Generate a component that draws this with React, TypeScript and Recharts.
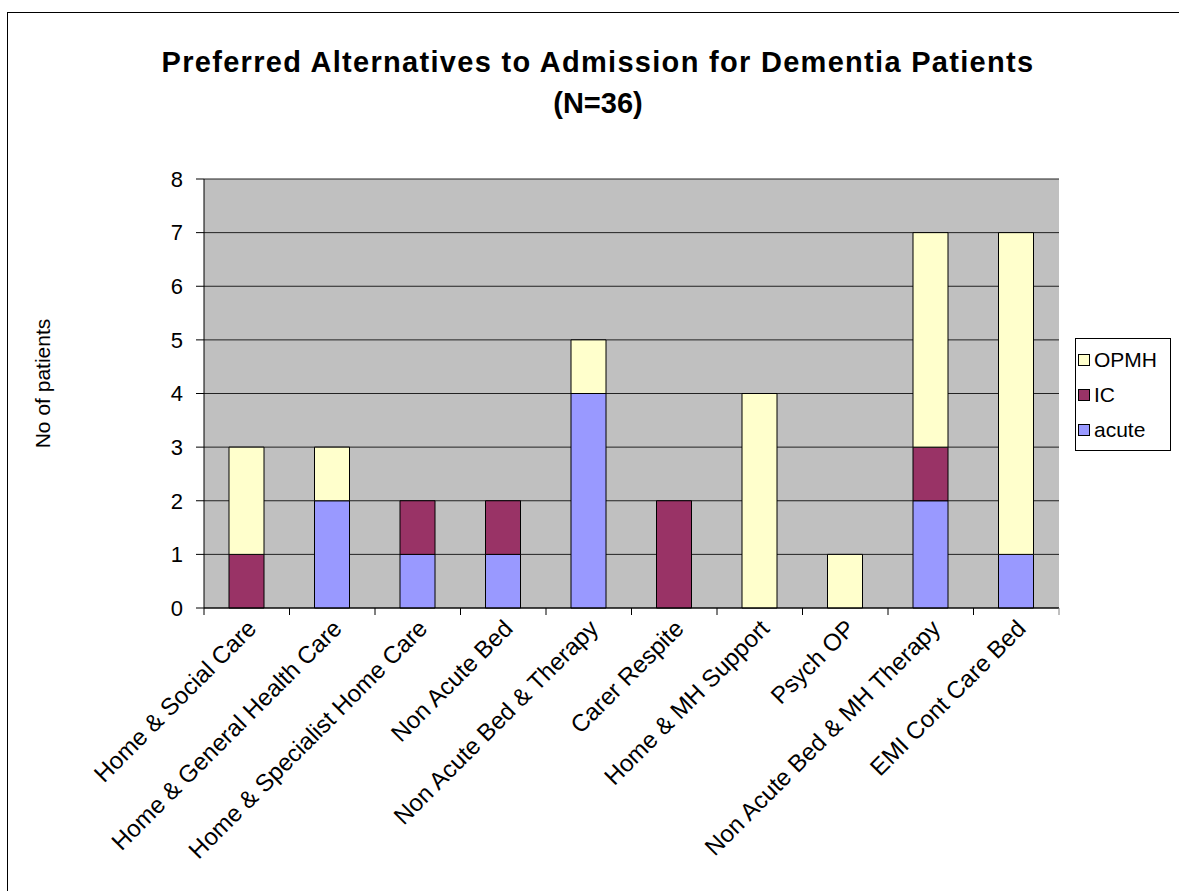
import React from "react";
import {
  Bar,
  BarChart,
  CartesianGrid,
  Label,
  Legend,
  XAxis,
  YAxis,
} from "recharts";

const categories = [
  "Home & Social Care",
  "Home & General Health Care",
  "Home & Specialist Home Care",
  "Non Acute Bed",
  "Non Acute Bed & Therapy",
  "Carer Respite",
  "Home & MH Support",
  "Psych OP",
  "Non Acute Bed & MH Therapy",
  "EMI Cont Care Bed",
];
const acute = [0, 2, 1, 1, 4, 0, 0, 0, 2, 1];
const ic = [1, 0, 1, 1, 0, 2, 0, 0, 1, 0];
const opmh = [2, 1, 0, 0, 1, 0, 4, 1, 4, 6];
const yTicks = [0, 1, 2, 3, 4, 5, 6, 7, 8];
const legendOrder = ["OPMH", "IC", "acute"];

const rows = categories.map((name, i) => ({
  name,
  acute: acute[i],
  IC: ic[i],
  OPMH: opmh[i],
}));

const W = 1179;
const H = 891;
const margin = { top: 179, right: 120, bottom: 0, left: 144 };
const Y_AXIS_W = 60;
const PLOT_W = W - margin.left - Y_AXIS_W - margin.right;
const BAND = PLOT_W / categories.length;
const FONT = "'Liberation Sans', Arial, sans-serif";

// category labels at 45°, with tick marks between the categories
function CategoryTick(props: any) {
  const { x, y, payload, index } = props;
  const last = index === categories.length - 1;
  return (
    <g>
      <line x1={x - BAND / 2} x2={x - BAND / 2} y1={y} y2={y + 7} stroke="#000" />
      {last && <line x1={x + BAND / 2} x2={x + BAND / 2} y1={y} y2={y + 7} stroke="#808080" />}
      <text
        transform={`translate(${x + 11}, ${y + 22}) rotate(-45)`}
        textAnchor="end"
        fontSize={24}
        fontFamily={FONT}
        fill="#000"
      >
        {payload.value}
      </text>
    </g>
  );
}

function LegendBox(props: any) {
  const items = legendOrder
    .map((k) => (props.payload || []).find((p: any) => p.dataKey === k))
    .filter(Boolean);
  return (
    <div
      style={{
        border: "1px solid #000",
        background: "#fff",
        width: 94,
        padding: "3px 0",
        fontFamily: FONT,
        fontSize: 21,
        color: "#000",
      }}
    >
      {items.map((p: any) => (
        <div key={p.dataKey} style={{ display: "flex", alignItems: "center", height: 35, paddingLeft: 2 }}>
          <span
            style={{
              width: 10,
              height: 10,
              border: "1px solid #000",
              background: p.color,
              marginRight: 4,
              display: "inline-block",
            }}
          />
          <span>{p.value}</span>
        </div>
      ))}
    </div>
  );
}

export default function App() {
  return (
    <div
      style={{
        position: "fixed",
        left: 0,
        top: 0,
        width: W,
        height: H,
        overflow: "hidden",
        background: "#fff",
        fontFamily: FONT,
      }}
    >
      <div
        style={{
          position: "absolute",
          left: 7,
          top: 12,
          width: 1300,
          height: 1000,
          border: "1px solid #000",
        }}
      />
      <div
        style={{
          position: "absolute",
          left: 0,
          top: 42,
          width: 1196,
          textAlign: "center",
          fontWeight: "bold",
          fontSize: 29,
          lineHeight: "41px",
          color: "#000",
        }}
      >
        <div style={{ letterSpacing: 1.3 }}>Preferred Alternatives to Admission for Dementia Patients</div>
        <div>(N=36)</div>
      </div>
      <div style={{ position: "absolute", left: 0, top: 0 }}>
        <BarChart width={W} height={H} data={rows} margin={margin} barSize={35}>
          <CartesianGrid fill="#C0C0C0" stroke="#222" vertical={false} />
          <XAxis
            dataKey="name"
            interval={0}
            height={283}
            tickSize={0}
            tickMargin={0}
            tickLine={false}
            axisLine={{ stroke: "#000" }}
            tick={<CategoryTick />}
          />
          <YAxis
            width={Y_AXIS_W}
            domain={[0, 8]}
            ticks={yTicks}
            interval={0}
            tickSize={8}
            tickMargin={13}
            tickLine={{ stroke: "#000" }}
            axisLine={{ stroke: "#000" }}
            tick={{ fill: "#000", fontSize: 22, fontFamily: FONT }}
          >
            <Label
              content={(p: any) => {
                const vb = p.viewBox;
                const cy = vb.y + vb.height / 2 - 10;
                return (
                  <text
                    x={42}
                    y={cy}
                    transform={`rotate(-90, 42, ${cy})`}
                    textAnchor="middle"
                    dominantBaseline="central"
                    fontSize={21}
                    fontFamily={FONT}
                    fill="#000"
                  >
                    No of patients
                  </text>
                );
              }}
            />
          </YAxis>
          <YAxis
            yAxisId="frame"
            orientation="right"
            width={0}
            domain={[0, 8]}
            tick={false}
            tickLine={false}
            axisLine={{ stroke: "#808080" }}
          />
          <Legend
            layout="vertical"
            align="center"
            verticalAlign="middle"
            content={<LegendBox />}
            wrapperStyle={{ left: 1075, top: 338, width: 96 }}
          />
          <Bar dataKey="acute" name="acute" stackId="a" fill="#9999FF" stroke="#000" isAnimationActive={false} />
          <Bar dataKey="IC" name="IC" stackId="a" fill="#993366" stroke="#000" isAnimationActive={false} />
          <Bar dataKey="OPMH" name="OPMH" stackId="a" fill="#FFFFCC" stroke="#000" isAnimationActive={false} />
        </BarChart>
      </div>
    </div>
  );
}
